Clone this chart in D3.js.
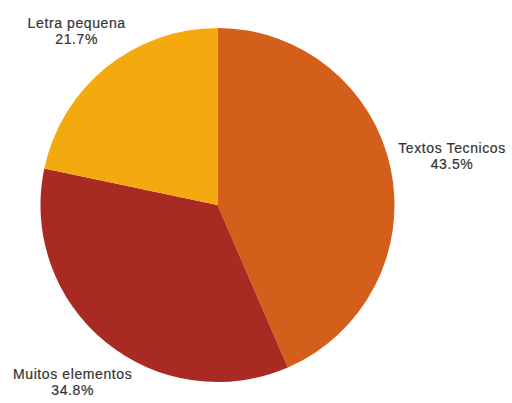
<!DOCTYPE html>
<html>
<head>
<meta charset="utf-8">
<script src="https://cdn.jsdelivr.net/npm/d3@7"></script>
<style>
  html, body { margin: 0; padding: 0; background: #fff; }
  svg { display: block; }
  text { font-family: "Liberation Sans", Arial, sans-serif; font-size: 14px; letter-spacing: 0.6px; fill: #333; stroke: #333; stroke-width: 0.2px; }
</style>
</head>
<body>
<svg id="chart" width="512" height="403"></svg>
<script>
// Slice categories, shares (%) and fill colours
const categories = ["Textos Tecnicos", "Muitos elementos", "Letra pequena"];
const shares = [43.5, 34.8, 21.7];
const colors = ["#D45F1A", "#A82A22", "#F4AA0E"];

const cx = 217.5, cy = 205, radius = 177, labelGap = 7, lineStep = 16;

const svg = d3.select("#chart");
const g = svg.append("g").attr("transform", `translate(${cx},${cy})`);

const data = categories.map((c, i) => ({ name: c, value: shares[i], color: colors[i] }));

const pie = d3.pie().value(d => d.value).sort(null);
const arcs = pie(data);

const arc = d3.arc().innerRadius(0).outerRadius(radius);

g.selectAll("path.slice")
  .data(arcs)
  .join("path")
  .attr("class", "slice")
  .attr("d", arc)
  .attr("fill", d => d.data.color);

// One group per label: category name above, percentage below
const labels = g.selectAll("g.label")
  .data(arcs)
  .join("g")
  .attr("class", "label");

labels.append("text")
  .attr("class", "name")
  .attr("text-anchor", "middle")
  .attr("y", 0)
  .text(d => d.data.name);

labels.append("text")
  .attr("class", "pct")
  .attr("text-anchor", "middle")
  .attr("y", lineStep)
  .text(d => d3.format(".1f")(d.data.value) + "%");

// Push each label block out along its slice's mid-angle until the
// whole block clears the pie edge by labelGap.
function nearestDist(x0, y0, x1, y1) {
  const nx = Math.max(x0, Math.min(0, x1));
  const ny = Math.max(y0, Math.min(0, y1));
  return Math.hypot(nx, ny);
}

labels.each(function(d) {
  const bb = this.getBBox();
  // glyph extents: cap height above the first baseline, to the second baseline
  const top = -11, bottom = lineStep + 1;
  const w = bb.width, h = bottom - top;
  const offY = (top + bottom) / 2;
  const a = (d.startAngle + d.endAngle) / 2;
  const sx = Math.sin(a), sy = -Math.cos(a);
  let r = radius;
  for (; r < radius + 200; r += 0.5) {
    const px = r * sx, py = r * sy;
    if (nearestDist(px - w / 2, py - h / 2, px + w / 2, py + h / 2) >= radius + labelGap) break;
  }
  const px = r * sx, py = r * sy;
  d3.select(this).attr("transform", `translate(${px},${py - offY})`);
});
</script>
</body>
</html>
